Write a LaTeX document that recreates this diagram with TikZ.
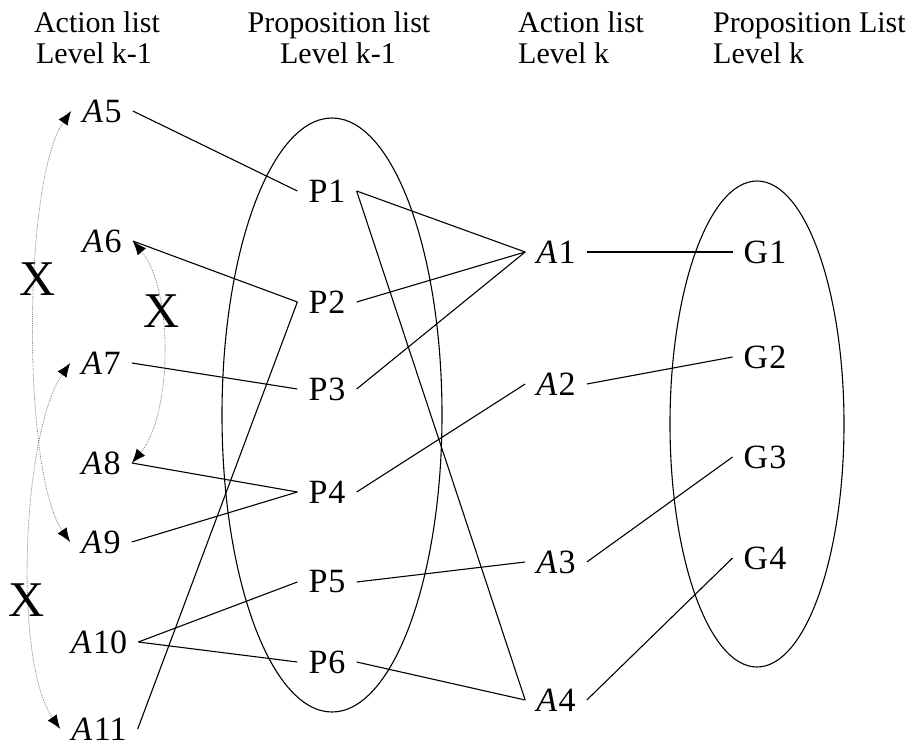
\documentclass[tikz,border=0pt]{standalone}
\usepackage{fontspec}
\setmainfont{Liberation Serif}
\usetikzlibrary{arrows.meta}

\begin{document}
\begin{tikzpicture}[x=1pt,y=1pt,
    head/.style={inner sep=0pt,font=\fontsize{30}{31}\selectfont},
    lbl/.style={inner xsep=11pt,inner ysep=0pt,font=\fontsize{34}{36}\selectfont},
    bigx/.style={inner sep=0pt,font=\fontsize{50}{50}\selectfont},
    link/.style={line width=1.1pt},
    mutex/.style={densely dotted,gray,line width=0.8pt,
      {Latex[length=14pt,width=11pt,color=black,fill=black]}-{Latex[length=14pt,width=11pt,color=black,fill=black]}}]
  \useasboundingbox (0,0) rectangle (918,-747);
  % column heads
  \node[head,anchor=base] (hact) at (97,-32) {Action list};
  \node[head,anchor=base] (hactlev) at (94,-63) {Level k-1};
  \node[head,anchor=base] (hprop) at (339,-32) {Proposition list};
  \node[head,anchor=base] (hproplev) at (338,-63) {Level k-1};
  \node[head,anchor=base west] (hactk) at (518,-32) {Action list};
  \node[head,anchor=base west] (hactklev) at (518,-63) {Level k};
  \node[head,anchor=base west] (hpropk) at (713,-32) {Proposition List};
  \node[head,anchor=base west] (hpropklev) at (713,-63) {Level k};
  % the two proposition sets
  \draw[link] (332,-415) ellipse [x radius=110pt,y radius=297pt];
  \draw[link] (757,-424) ellipse [x radius=87pt,y radius=243pt];
  % levels
  \foreach \n/\x/\y in {5/102/111,6/102/241,7/101/363,8/101/463,9/101/542,10/99/642,11/99/729}
    \node[lbl] (A\n) at (\x,-\y) {{\itshape A}\kern1.5pt\n};
  \foreach \n/\y in {1/191,2/302,3/389,4/492,5/582,6/662}
    \node[lbl] (P\n) at (327,-\y) {P\kern1pt\n};
  \foreach \n/\y in {1/252,2/384,3/562,4/700}
    \node[lbl] (A\n) at (556,-\y) {{\itshape A}\kern1.5pt\n};
  \foreach \n/\y in {1/252,2/357,3/457,4/558}
    \node[lbl] (G\n) at (765,-\y) {G\kern1pt\n};
  % links
  \foreach \a/\b in {A5/P1,A6/P2,A11/P2,A7/P3,A8/P4,A9/P4,A10/P5,A10/P6,
                     P1/A1,P2/A1,P3/A1,P1/A4,P4/A2,P5/A3,P6/A4,
                     A1/G1,A2/G2,A3/G3,A4/G4}
    \draw[link] (\a.east) -- (\b.west);
  % mutual exclusions
  \draw[mutex] (A5.west) to[out=235,in=125,looseness=0.5] (A9.west);
  \draw[mutex] (A7.west) to[out=235,in=125,looseness=0.58] (A11.west);
  \draw[mutex] (A6.east) to[out=-50,in=50,looseness=0.73] (A8.east);
  \node[bigx] (x1) at (38,-279) {X};
  \node[bigx] (x2) at (162,-311) {X};
  \node[bigx] (x3) at (27,-600) {X};
\end{tikzpicture}
\end{document}
